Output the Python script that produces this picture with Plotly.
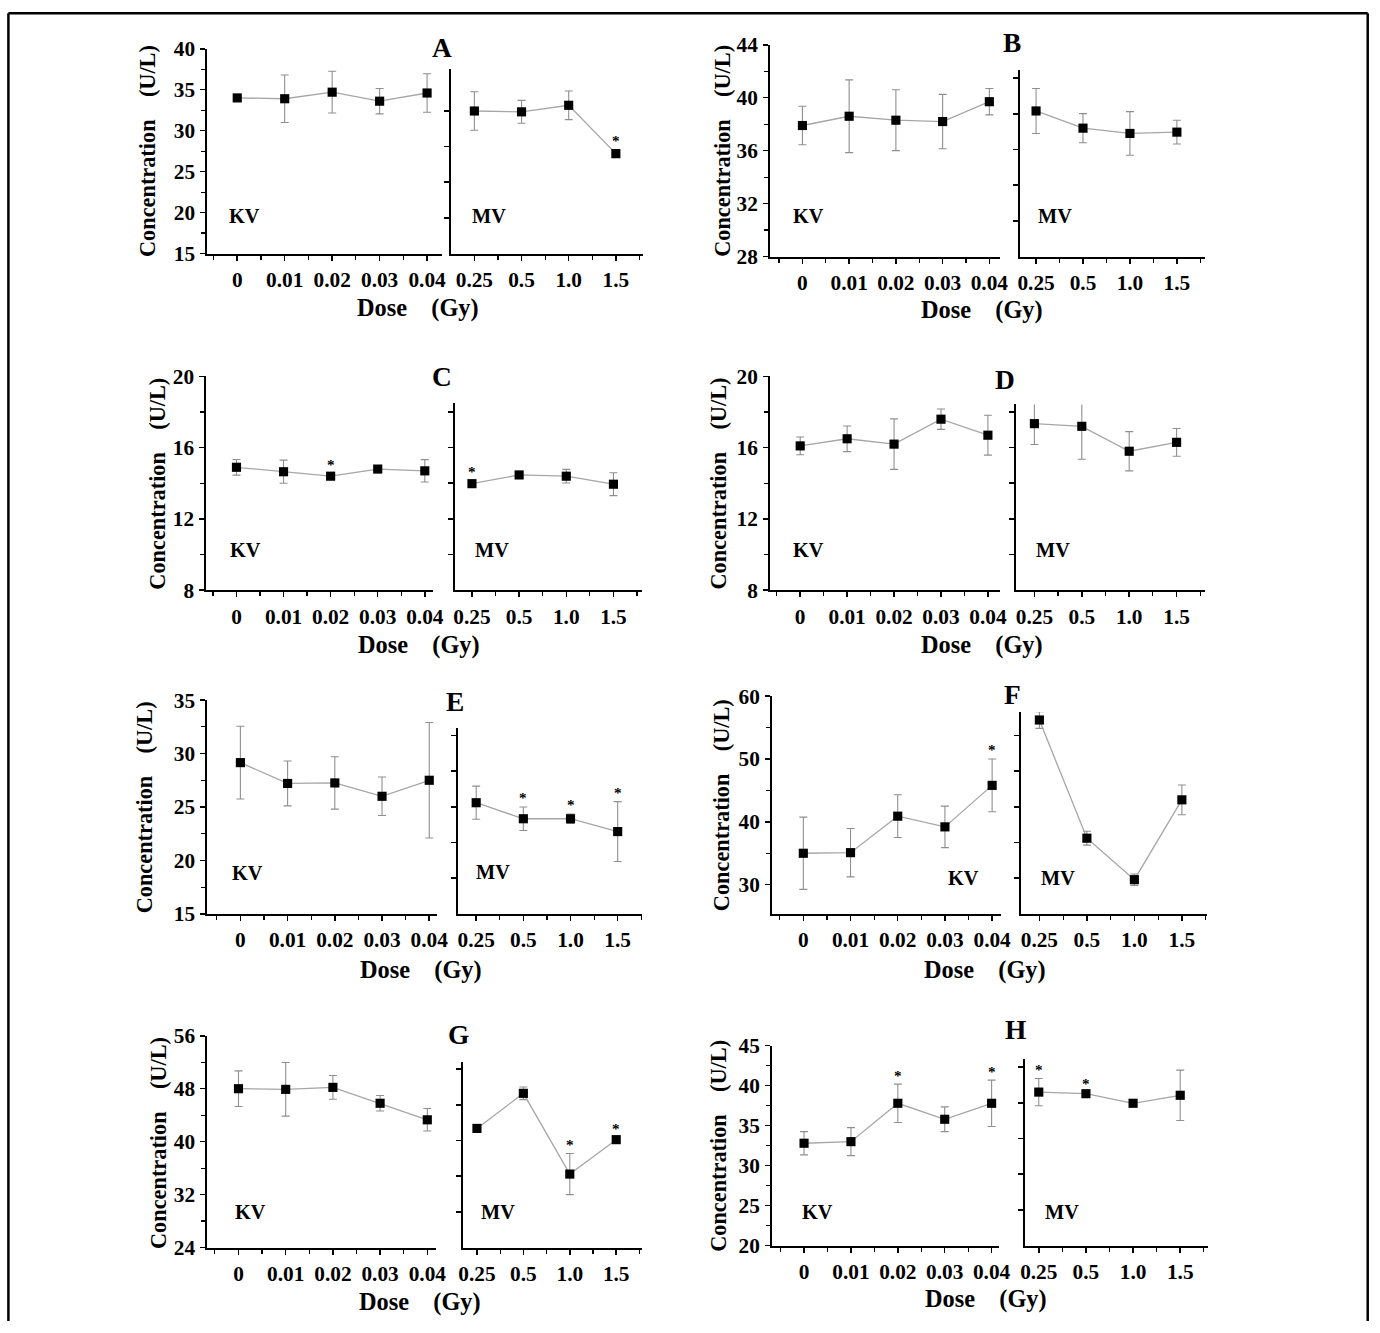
import plotly.graph_objects as go

W, H = 1380, 1333
FONT = "Liberation Serif, Times New Roman, serif"

# ---------------- data ----------------
kv_doses = [0, 0.01, 0.02, 0.03, 0.04]
kv_tick_labels = ["0", "0.01", "0.02", "0.03", "0.04"]
mv_positions = [0, 1, 2, 3]
mv_tick_labels = ["0.25", "0.5", "1.0", "1.5"]

A_kv_mean = [34.0, 33.9, 34.7, 33.6, 34.6]
A_kv_sd = [0.2, 2.9, 2.55, 1.55, 2.35]
A_kv_sig = [0, 0, 0, 0, 0]
A_mv_mean = [32.4, 32.3, 33.1, 27.2]
A_mv_sd = [2.35, 1.4, 1.75, 0.5]
A_mv_sig = [0, 0, 0, 1]

B_kv_mean = [37.9, 38.6, 38.3, 38.2, 39.7]
B_kv_sd = [1.45, 2.75, 2.3, 2.05, 1.0]
B_kv_sig = [0, 0, 0, 0, 0]
B_mv_mean = [39.0, 37.7, 37.3, 37.4]
B_mv_sd = [1.7, 1.1, 1.65, 0.9]
B_mv_sig = [0, 0, 0, 0]

C_kv_mean = [14.9, 14.65, 14.4, 14.8, 14.7]
C_kv_sd = [0.44, 0.65, 0.15, 0.12, 0.63]
C_kv_sig = [0, 0, 1, 0, 0]
C_mv_mean = [13.98, 14.47, 14.4, 13.95]
C_mv_sd = [0.15, 0.15, 0.38, 0.64]
C_mv_sig = [1, 0, 0, 0]

D_kv_mean = [16.1, 16.5, 16.2, 17.6, 16.7]
D_kv_sd = [0.5, 0.72, 1.42, 0.57, 1.12]
D_kv_sig = [0, 0, 0, 0, 0]
D_mv_mean = [17.35, 17.2, 15.8, 16.3]
D_mv_sd = [1.17, 1.85, 1.1, 0.78]
D_mv_sig = [0, 0, 0, 0]

E_kv_mean = [29.15, 27.2, 27.25, 26.0, 27.5]
E_kv_sd = [3.4, 2.1, 2.45, 1.8, 5.4]
E_kv_sig = [0, 0, 0, 0, 0]
E_mv_mean = [25.4, 23.9, 23.9, 22.7]
E_mv_sd = [1.55, 1.1, 0.45, 2.8]
E_mv_sig = [0, 1, 1, 1]

F_kv_mean = [35.0, 35.1, 40.9, 39.2, 45.8]
F_kv_sd = [5.75, 3.85, 3.4, 3.3, 4.2]
F_kv_sig = [0, 0, 0, 0, 1]
F_mv_mean = [56.2, 37.4, 30.8, 43.5]
F_mv_sd = [1.33, 1.1, 0.9, 2.37]
F_mv_sig = [1, 0, 0, 0]

G_kv_mean = [48.0, 47.9, 48.2, 45.8, 43.3]
G_kv_sd = [2.7, 4.05, 1.8, 1.17, 1.7]
G_kv_sig = [0, 0, 0, 0, 0]
G_mv_mean = [42.0, 47.3, 35.1, 40.3]
G_mv_sd = [0.3, 0.95, 3.1, 0.3]
G_mv_sig = [0, 0, 1, 1]

H_kv_mean = [32.8, 33.0, 37.8, 35.8, 37.8]
H_kv_sd = [1.45, 1.75, 2.4, 1.55, 2.9]
H_kv_sig = [0, 0, 1, 0, 1]
H_mv_mean = [39.2, 39.0, 37.8, 38.8]
H_mv_sd = [1.7, 0.2, 0.1, 3.15]
H_mv_sig = [1, 1, 0, 0]

panel_data = {
    "A": (A_kv_mean, A_kv_sd, A_kv_sig, A_mv_mean, A_mv_sd, A_mv_sig),
    "B": (B_kv_mean, B_kv_sd, B_kv_sig, B_mv_mean, B_mv_sd, B_mv_sig),
    "C": (C_kv_mean, C_kv_sd, C_kv_sig, C_mv_mean, C_mv_sd, C_mv_sig),
    "D": (D_kv_mean, D_kv_sd, D_kv_sig, D_mv_mean, D_mv_sd, D_mv_sig),
    "E": (E_kv_mean, E_kv_sd, E_kv_sig, E_mv_mean, E_mv_sd, E_mv_sig),
    "F": (F_kv_mean, F_kv_sd, F_kv_sig, F_mv_mean, F_mv_sd, F_mv_sig),
    "G": (G_kv_mean, G_kv_sd, G_kv_sig, G_mv_mean, G_mv_sd, G_mv_sig),
    "H": (H_kv_mean, H_kv_sd, H_kv_sig, H_mv_mean, H_mv_sd, H_mv_sig),
}

# ---------------- layout geometry (target pixels in the final picture) ----------------
geom = {
    "A": dict(kv_x=(207, 442), mv_x=(451, 643), top_kv=48, top_mv=68, bottom=253,
              kv_xr=(-0.0063, 0.0432), mv_xr=(-0.49, 3.58), yr=(15, 40), dtick=5, minor=2.5,
              letter=(442, 47), kvlab=(244, 215), mvlab=(489, 215), ytitle=(147, 150), xtitle=(418, 308)),
    "B": dict(kv_x=(770, 1000), mv_x=(1020, 1205), top_kv=44, top_mv=69, bottom=256,
              kv_xr=(-0.0069, 0.0423), mv_xr=(-0.34, 3.60), yr=(28, 44), dtick=4, minor=2,
              letter=(1012, 42), kvlab=(808, 215), mvlab=(1055, 215), ytitle=(722, 150), xtitle=(982, 310)),
    "C": dict(kv_x=(206, 433), mv_x=(455, 642), top_kv=376, top_mv=403, bottom=590,
              kv_xr=(-0.0064, 0.0418), mv_xr=(-0.354, 3.61), yr=(8, 20), dtick=4, minor=2,
              letter=(442, 377), kvlab=(245, 550), mvlab=(492, 550), ytitle=(157, 483), xtitle=(419, 645)),
    "D": dict(kv_x=(770, 1000), mv_x=(1016, 1205), top_kv=376, top_mv=404, bottom=590,
              kv_xr=(-0.0064, 0.0426), mv_xr=(-0.386, 3.6), yr=(8, 20), dtick=4, minor=2,
              letter=(1005, 380), kvlab=(808, 550), mvlab=(1053, 550), ytitle=(718, 483), xtitle=(982, 645)),
    "E": dict(kv_x=(207, 437), mv_x=(458, 642), top_kv=700, top_mv=728, bottom=914,
              kv_xr=(-0.007, 0.0417), mv_xr=(-0.38, 3.52), yr=(15, 35), dtick=5, minor=2.5,
              letter=(455, 702), kvlab=(247, 873), mvlab=(493, 872), ytitle=(145, 807), xtitle=(421, 970)),
    "F": dict(kv_x=(772, 1001), mv_x=(1021, 1207), top_kv=696, top_mv=712, bottom=914,
              kv_xr=(-0.0066, 0.0419), mv_xr=(-0.385, 3.53), yr=(25.36, 60), dtick=10, minor=5,
              letter=(1012, 695), kvlab=(963, 878), mvlab=(1058, 878), ytitle=(722, 805), xtitle=(985, 970)),
    "G": dict(kv_x=(207, 436), mv_x=(463, 642), top_kv=1036, top_mv=1062, bottom=1248,
              kv_xr=(-0.0066, 0.0419), mv_xr=(-0.295, 3.56), yr=(24, 56), dtick=8, minor=4,
              letter=(458, 1035), kvlab=(250, 1212), mvlab=(498, 1212), ytitle=(158, 1143), xtitle=(420, 1303)),
    "H": dict(kv_x=(772, 999), mv_x=(1025, 1208), top_kv=1046, top_mv=1059, bottom=1246,
              kv_xr=(-0.0068, 0.0416), mv_xr=(-0.29, 3.59), yr=(20, 45), dtick=5, minor=2.5,
              letter=(1015, 1030), kvlab=(817, 1212), mvlab=(1062, 1212), ytitle=(718, 1146), xtitle=(986, 1300)),
}

# observed mapping of figure pixels onto the photograph: p' = O + S * p  (compensated here)
OX, OY, SX, SY = 4.6, 11.2, 0.9887, 0.983
FS = 2.0 / (SX + SY)  # size compensation for fonts / markers
MV_TICK_PX = 35.7 / SY


def fx(p):
    return (p - OX) / SX


def fy(p):
    return (p - OY) / SY


def px_x(p):
    return fx(p) / W


def px_y(p):
    return 1 - fy(p) / H


def fs(v):
    return round(v * FS, 2)


fig = go.Figure()
layout = dict(
    width=W, height=H, margin=dict(l=0, r=0, t=0, b=0),
    paper_bgcolor="white", plot_bgcolor="white", showlegend=False,
    font=dict(family=FONT, color="black"),
)
annotations = []

axis_common = dict(
    showline=True, linecolor="black", linewidth=2, ticks="outside", ticklen=5,
    tickwidth=1.5, tickcolor="black", showgrid=False, zeroline=False,
    tickfont=dict(family=FONT, size=fs(21), color="black", weight="bold"),
)

n = 0
for letter, (kv_m, kv_s, kv_sig, mv_m, mv_s, mv_sig) in panel_data.items():
    g = geom[letter]
    ymin, ymax = g["yr"]
    ppu = (fy(g["bottom"]) - fy(g["top_kv"])) / (ymax - ymin)  # figure px per unit
    mv_ymax = ymin + (fy(g["bottom"]) - fy(g["top_mv"])) / ppu
    step_u = MV_TICK_PX / ppu
    mv_ticks = []
    k = 1
    while ymin + k * step_u < mv_ymax - 0.2 * step_u:
        mv_ticks.append(ymin + k * step_u)
        k += 1

    for sub in ("kv", "mv"):
        n += 1
        xname = "xaxis" if n == 1 else f"xaxis{n}"
        yname = "yaxis" if n == 1 else f"yaxis{n}"
        xref = "x" if n == 1 else f"x{n}"
        yref = "y" if n == 1 else f"y{n}"
        xl, xr = g[f"{sub}_x"]
        top = g[f"top_{sub}"]
        if sub == "kv":
            xs, ys, sds, sig = kv_doses, kv_m, kv_s, kv_sig
            xax = dict(axis_common, domain=[px_x(xl), px_x(xr)], anchor=yref,
                       range=list(g["kv_xr"]), tickvals=kv_doses, ticktext=kv_tick_labels,
                       ticklabelstandoff=1,
                       minor=dict(dtick=0.005, tick0=0, ticks="outside", ticklen=4,
                                  tickwidth=1.2, tickcolor="black"))
            yax = dict(axis_common, domain=[px_y(g["bottom"]), px_y(top)], anchor=xref,
                       range=[ymin, ymax], tick0=0, dtick=g["dtick"], ticklabelstandoff=1,
                       minor=dict(dtick=g["minor"], tick0=0, ticks="outside", ticklen=4,
                                  tickwidth=1.2, tickcolor="black"))
        else:
            xs, ys, sds, sig = mv_positions, mv_m, mv_s, mv_sig
            xax = dict(axis_common, domain=[px_x(xl), px_x(xr)], anchor=yref,
                       range=list(g["mv_xr"]), tickvals=mv_positions, ticktext=mv_tick_labels,
                       ticklabelstandoff=1,
                       minor=dict(dtick=0.5, tick0=0, ticks="outside", ticklen=4,
                                  tickwidth=1.2, tickcolor="black"))
            yax = dict(axis_common, domain=[px_y(g["bottom"]), px_y(top)], anchor=xref,
                       range=[ymin, mv_ymax], tickvals=mv_ticks, showticklabels=False)
        layout[xname] = xax
        layout[yname] = yax

        fig.add_trace(go.Scatter(
            x=xs, y=ys, xaxis=xref, yaxis=yref, mode="lines+markers",
            line=dict(color="#a6a6a6", width=1.3),
            marker=dict(symbol="square", size=fs(9), color="black"),
            error_y=dict(type="data", array=sds, visible=True, color="#8f8f8f",
                         thickness=1.1, width=4),
            cliponaxis=False, hoverinfo="skip",
        ))
        for xv, yv, sv, flag in zip(xs, ys, sds, sig):
            if flag:
                annotations.append(dict(
                    x=xv, y=yv + sv, xref=xref, yref=yref, text="*", showarrow=False,
                    yshift=9, font=dict(family=FONT, size=fs(15), color="black", weight="bold"),
                    xanchor="center", yanchor="middle"))

    # texts
    annotations.append(dict(x=px_x(g["letter"][0]), y=px_y(g["letter"][1]), xref="paper", yref="paper",
                            text=letter, showarrow=False, xanchor="center", yanchor="middle",
                            font=dict(family=FONT, size=fs(27), color="black", weight="bold")))
    for key, txt in (("kvlab", "KV"), ("mvlab", "MV")):
        annotations.append(dict(x=px_x(g[key][0]), y=px_y(g[key][1]), xref="paper", yref="paper",
                                text=txt, showarrow=False, xanchor="center", yanchor="middle",
                                font=dict(family=FONT, size=fs(20), color="black", weight="bold")))
    annotations.append(dict(x=px_x(g["ytitle"][0]), y=px_y(g["ytitle"][1]), xref="paper", yref="paper",
                            text="Concentration\u00a0\u00a0\u00a0\u00a0(U/L)", textangle=-90,
                            showarrow=False, xanchor="center", yanchor="middle",
                            font=dict(family=FONT, size=fs(22), color="black", weight="bold")))
    annotations.append(dict(x=px_x(g["xtitle"][0]), y=px_y(g["xtitle"][1]), xref="paper", yref="paper",
                            text="Dose\u00a0\u00a0\u00a0\u00a0(Gy)", showarrow=False,
                            xanchor="center", yanchor="middle",
                            font=dict(family=FONT, size=fs(24), color="black", weight="bold")))

layout["annotations"] = annotations

# outer frame (top, left, right), kept inside the figure
fr_left = max(fx(8), 1.3) / W
fr_right = min(fx(1377), W - 1.3) / W
fr_top = 1 - max(fy(9), 1.3) / H
layout["shapes"] = [
    dict(type="line", xref="paper", yref="paper", x0=fr_left, x1=fr_right, y0=fr_top, y1=fr_top,
         line=dict(color="black", width=2.5)),
    dict(type="line", xref="paper", yref="paper", x0=fr_left, x1=fr_left, y0=fr_top, y1=0,
         line=dict(color="black", width=2.5)),
    dict(type="line", xref="paper", yref="paper", x0=fr_right, x1=fr_right, y0=fr_top, y1=0,
         line=dict(color="black", width=2.5)),
]
fig.update_layout(**layout)

page_css = (
    "document.body.style.margin='0';"
    "document.body.style.overflow='hidden';"
    "document.documentElement.style.overflow='hidden';"
    "var _d=document.getElementById('{plot_id}');"
    "_d.style.position='fixed';_d.style.left='0px';_d.style.top='0px';"
)
post = "});" + page_css + "(function(){"
fig.write_html("out.html", post_script=post, config={"displayModeBar": False, "staticPlot": True})
